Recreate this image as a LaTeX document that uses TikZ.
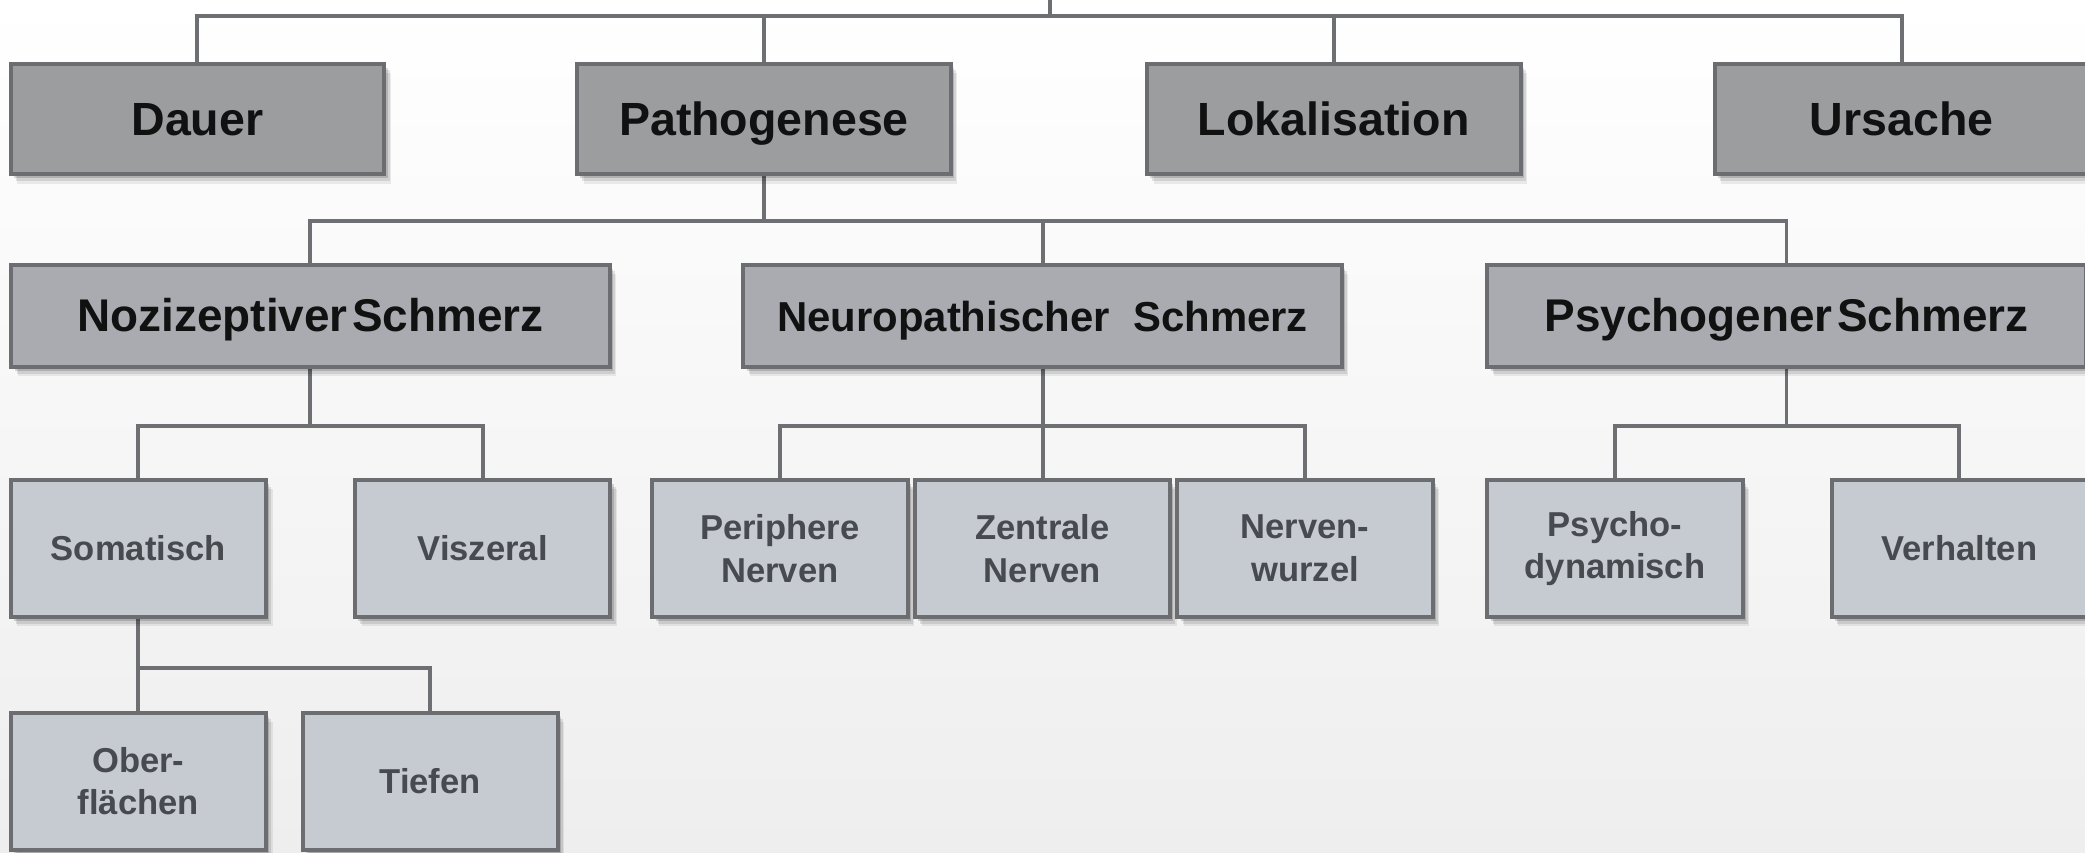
\documentclass[tikz,border=0pt]{standalone}
\usepackage{fontspec}
\setmainfont{Liberation Sans}
\usetikzlibrary{shadows,backgrounds}
\definecolor{bordc}{HTML}{6C6D70}
\definecolor{connc}{HTML}{6E6F72}
\definecolor{fillA}{HTML}{9B9D9F}
\definecolor{fillB}{HTML}{A9ABB0}
\definecolor{fillC}{HTML}{C6CAD1}
\definecolor{txtA}{HTML}{111111}
\definecolor{txtC}{HTML}{474A4F}
\definecolor{bgbot}{HTML}{EEEEEE}
\pgfdeclarelayer{bgl}
\pgfdeclarelayer{connl}
\pgfsetlayers{bgl,connl,main}
\tikzset{
  boxbase/.style={draw=bordc, line width=3pt, rectangle, inner sep=0pt,
    drop shadow={shadow xshift=5pt, shadow yshift=-7pt, opacity=0.07, fill=black},
    drop shadow={shadow xshift=4pt, shadow yshift=-5pt, opacity=0.10, fill=black},
    drop shadow={shadow xshift=2.5pt, shadow yshift=-3pt, opacity=0.15, fill=black}},
  lvlA/.style={boxbase, fill=fillA, minimum width=281pt, minimum height=83pt,
    text=txtA, font=\fontsize{35}{42}\selectfont\bfseries, text height=25pt, text depth=0pt},
  lvlB/.style={boxbase, fill=fillB, minimum width=450pt, minimum height=77pt,
    text=txtA, font=\fontsize{34.5}{40}\selectfont\bfseries, text height=24pt, text depth=0pt},
  lvlC/.style={boxbase, fill=fillC, minimum width=192pt, minimum height=103pt,
    text=txtC, font=\fontsize{26}{32}\selectfont\bfseries, align=center},
  conn/.style={draw=connc, line width=3pt}
}
\begin{document}
\begin{tikzpicture}[x=1pt,y=-1pt]
\useasboundingbox (0,0) rectangle (1568,641);
\clip (0,0) rectangle (1568,641);
\begin{pgfonlayer}{bgl}
\fill[top color=white, bottom color=bgbot] (0,0) rectangle (1568,641);
\end{pgfonlayer}

% Row 1
\node[lvlA] (dauer) at (148.5,89.5) {Dauer};
\node[lvlA] (patho) at (574.5,89.5) {Pathogenese};
\node[lvlA] (lokal) at (1003,89.5) {Lokalisation};
\node[lvlA] (ursache) at (1430,89.5) {Ursache};

% Row 2
\node[lvlB] (nozi) at (233.5,237.5) {Nozizeptiver\hspace{0.1em}Schmerz};
\node[lvlB] (neuro) at (784,237.5) {\fontsize{31.5}{38}\selectfont Neuropathischer\ \ Schmerz};
\node[lvlB] (psych) at (1343.5,237.5) {Psychogener\hspace{0.1em}Schmerz};

% Row 3
\node[lvlC] (soma) at (104,412.5) {Somatisch};
\node[lvlC] (visz) at (363,412.5) {Viszeral};
\node[lvlC] (peri) at (586.5,412.5) {Periphere\\Nerven};
\node[lvlC] (zentr) at (784,412.5) {Zentrale\\Nerven};
\node[lvlC] (wurz) at (981.5,412.5) {Nerven-\\wurzel};
\node[lvlC] (pdyn) at (1214.5,412.5) {Psycho-\\dynamisch};
\node[lvlC] (verh) at (1473.5,412.5) {Verhalten};

% Row 4
\node[lvlC] (ober) at (104,587.5) {Ober-\\flächen};
\node[lvlC] (tief) at (323.5,587.5) {Tiefen};

% bus coordinates
\coordinate (root) at (790,-3);
\coordinate (busA) at (790,12);
\coordinate (busB) at (574.5,166);
\coordinate (busC) at (233.5,320);
\coordinate (busD) at (784,320);
\coordinate (busE) at (1343.5,320);
\coordinate (busF) at (104,502);

\begin{pgfonlayer}{connl}
% top level
\draw[conn] (root) -- (busA);
\draw[conn] (dauer.north) |- (busA) -| (ursache.north);
\draw[conn] (patho.north) -- (patho.north |- busA);
\draw[conn] (lokal.north) -- (lokal.north |- busA);
% Pathogenese
\draw[conn] (patho.south) -- (busB);
\draw[conn] (nozi.north) |- (busB) -| (psych.north);
\draw[conn] (neuro.north) -- (neuro.north |- busB);
% Nozizeptiv
\draw[conn] (nozi.south) -- (busC);
\draw[conn] (soma.north) |- (busC) -| (visz.north);
% Neuropathisch
\draw[conn] (neuro.south) -- (busD);
\draw[conn] (peri.north) |- (busD) -| (wurz.north);
\draw[conn] (zentr.north) -- (zentr.north |- busD);
% Psychogen
\draw[conn] (psych.south) -- (busE);
\draw[conn] (pdyn.north) |- (busE) -| (verh.north);
% Somatisch
\draw[conn] (soma.south) -- (busF);
\draw[conn] (ober.north) |- (busF) -| (tief.north);
\end{pgfonlayer}
\end{tikzpicture}
\end{document}
